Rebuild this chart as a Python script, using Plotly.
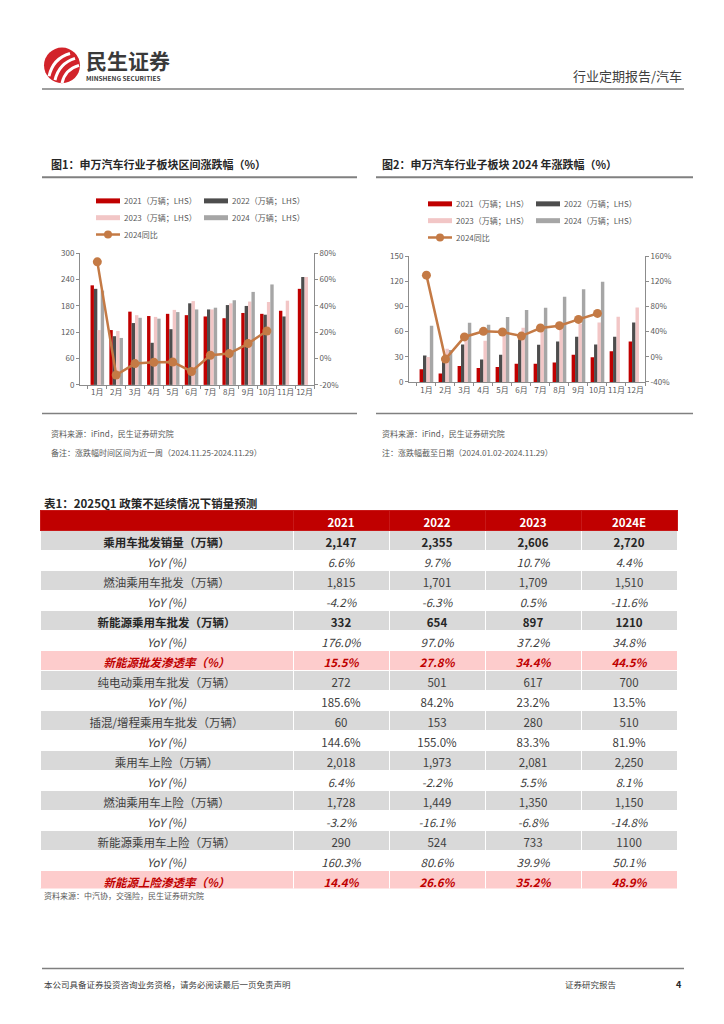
import plotly.graph_objects as go

W, H = 724, 1024
FONT = "Noto Sans CJK SC"

# ---------------- data ----------------
months = ["1月", "2月", "3月", "4月", "5月", "6月", "7月", "8月", "9月", "10月", "11月", "12月"]

c1_2021 = [227, 125, 167, 157, 162, 159, 156, 152, 164, 162, 169, 219]
c1_2022 = [219, 111, 141, 96, 127, 186, 172, 182, 180, 160, 156, 246]
c1_2023 = [125, 123, 159, 155, 171, 191, 172, 186, 190, 189, 192, 246]
c1_2024 = [215, 107, 153, 151, 166, 172, 176, 193, 212, 229, None, None]
c1_yoy = [73.5, -12.5, -3.8, -2.8, -2.6, -9.8, 2.5, 3.8, 11.4, 21.0]

c2_2021 = [15, 10, 19, 16.6, 17.8, 21.7, 21.7, 23.3, 32.4, 29.4, 36.5, 48.4]
c2_2022 = [31.6, 25, 44.6, 26.8, 32.4, 51, 44.4, 48.4, 54, 44.6, 54, 70.8]
c2_2023 = [29.6, 39.5, 54, 49, 55.5, 64.7, 60.6, 67.9, 69.3, 71, 77.9, 88.8]
c2_2024 = [67, 38, 70.7, 68.4, 77.5, 86, 88.6, 101.6, 110.5, 119.6, None, None]
c2_yoy = [130, -3.7, 31.6, 40.5, 39.5, 33, 45.8, 49.5, 59.5, 69]

series_names = ["2021（万辆；LHS）", "2022（万辆；LHS）", "2023（万辆；LHS）", "2024（万辆；LHS）"]
line_name = "2024同比"

c1_left_ticks = [0, 60, 120, 180, 240, 300]
c1_right_ticks = [-20, 0, 20, 40, 60, 80]
c2_left_ticks = [0, 30, 60, 90, 120, 150]
c2_right_ticks = [-40, 0, 40, 80, 120, 160]

table_header = ["", "2021", "2022", "2023", "2024E"]
row_labels = ["乘用车批发销量（万辆）", "YoY (%)", "燃油乘用车批发（万辆）", "YoY (%)",
              "新能源乘用车批发（万辆）", "YoY (%)", "新能源批发渗透率（%）",
              "纯电动乘用车批发（万辆）", "YoY (%)", "插混/增程乘用车批发（万辆）", "YoY (%)",
              "乘用车上险（万辆）", "YoY (%)", "燃油乘用车上险（万辆）", "YoY (%)",
              "新能源乘用车上险（万辆）", "YoY (%)", "新能源上险渗透率（%）"]
v2021 = ["2,147", "6.6%", "1,815", "-4.2%", "332", "176.0%", "15.5%", "272", "185.6%", "60", "144.6%",
         "2,018", "6.4%", "1,728", "-3.2%", "290", "160.3%", "14.4%"]
v2022 = ["2,355", "9.7%", "1,701", "-6.3%", "654", "97.0%", "27.8%", "501", "84.2%", "153", "155.0%",
         "1,973", "-2.2%", "1,449", "-16.1%", "524", "80.6%", "26.6%"]
v2023 = ["2,606", "10.7%", "1,709", "0.5%", "897", "37.2%", "34.4%", "617", "23.2%", "280", "83.3%",
         "2,081", "5.5%", "1,350", "-6.8%", "733", "39.9%", "35.2%"]
v2024 = ["2,720", "4.4%", "1,510", "-11.6%", "1210", "34.8%", "44.5%", "700", "13.5%", "510", "81.9%",
         "2,250", "8.1%", "1,150", "-14.8%", "1100", "50.1%", "48.9%"]
# row style: g=grey, w=white, p=pink ; b=bold ; i=italic values ; l = italic label only
row_style = ["gb", "wi", "g", "wi", "gb", "wi", "p", "g", "wl", "g", "wl",
             "g", "wi", "g", "wi", "g", "wi", "p"]

# ---------------- colours ----------------
RED = "#C00000"
DARK = "#4D4D4D"
PINK = "#F2C6C6"
GREY = "#A6A6A6"
LINEC = "#C47A45"
AX = "#8C8C8C"
TXT = "#595959"
bar_colors = [RED, DARK, PINK, GREY]


def px(x):
    return x / W


def py(y):
    return 1 - y / H


fig = go.Figure()

# ---------------- charts ----------------
for vals, name, col in zip([c1_2021, c1_2022, c1_2023, c1_2024], series_names, bar_colors):
    fig.add_trace(go.Bar(x=months, y=vals, name=name, marker=dict(color=col, line=dict(width=0)),
                         xaxis="x", yaxis="y", showlegend=False))
fig.add_trace(go.Scatter(x=months[:len(c1_yoy)], y=c1_yoy, name=line_name, mode="lines+markers",
                         line=dict(color=LINEC, width=2.5), marker=dict(size=9, color=LINEC),
                         xaxis="x", yaxis="y2", showlegend=False))

for vals, name, col in zip([c2_2021, c2_2022, c2_2023, c2_2024], series_names, bar_colors):
    fig.add_trace(go.Bar(x=months, y=vals, name=name, marker=dict(color=col, line=dict(width=0)),
                         xaxis="x2", yaxis="y3", showlegend=False))
fig.add_trace(go.Scatter(x=months[:len(c2_yoy)], y=c2_yoy, name=line_name, mode="lines+markers",
                         line=dict(color=LINEC, width=2.5), marker=dict(size=9, color=LINEC),
                         xaxis="x2", yaxis="y4", showlegend=False))

tickfont = dict(family=FONT, size=8, color=TXT)
ax_common = dict(showline=True, linecolor=AX, linewidth=1, ticks="outside", ticklen=3,
                 tickcolor=AX, tickfont=tickfont, showgrid=False, zeroline=False, fixedrange=True)

# ---------------- table ----------------
fills = []
fontcols, lab_style, val_style, weights = [], [], [], []
for st in row_style:
    if st.startswith("g"):
        fills.append("#D9D9D9")
    elif st.startswith("p"):
        fills.append("#FDCCCC")
    else:
        fills.append("white")
    if st == "p":
        fontcols.append(RED); weights.append("bold"); lab_style.append("italic"); val_style.append("italic")
    elif st == "gb":
        fontcols.append("#262626"); weights.append("bold"); lab_style.append("normal"); val_style.append("normal")
    elif st == "wi":
        fontcols.append("#404040"); weights.append("normal"); lab_style.append("italic"); val_style.append("italic")
    elif st == "wl":
        fontcols.append("#404040"); weights.append("normal"); lab_style.append("italic"); val_style.append("normal")
    else:
        fontcols.append("#404040"); weights.append("normal"); lab_style.append("normal"); val_style.append("normal")

fig.add_trace(go.Table(
    domain=dict(x=[px(40), px(677)], y=[py(893), py(510)]),
    columnwidth=[253, 96, 96, 96, 96],
    header=dict(values=table_header, fill_color=RED,
                line=dict(color="#C81818", width=1), align="center", height=20,
                font=dict(family=FONT, size=11.5, color="white", weight="bold")),
    cells=dict(values=[row_labels, v2021, v2022, v2023, v2024], fill_color=[fills] * 5,
               line=dict(color="white", width=1), align="center", height=20,
               font=dict(family=FONT, size=11.5, color=[fontcols] * 5)),
))
# per-cell weight / style grids (plotly.js accepts 2-D font arrays for table cells)
_tbl = fig._data[-1]
_tbl["cells"]["font"]["weight"] = [weights] * 5
_tbl["cells"]["font"]["style"] = [lab_style] + [val_style] * 4

# ---------------- decorations ----------------
shapes = []
ann = []


def hline(x0, x1, y, color="#808080", width=1.5):
    shapes.append(dict(type="line", xref="paper", yref="paper", x0=px(x0), x1=px(x1),
                       y0=py(y), y1=py(y), line=dict(color=color, width=width)))


def text(x, y, s, size=8.5, color=TXT, anchor="left", bold=False):
    ann.append(dict(xref="paper", yref="paper", x=px(x), y=py(y), text=("<b>%s</b>" % s) if bold else s,
                    showarrow=False, xanchor=anchor, yanchor="middle",
                    font=dict(family=FONT, size=size, color=color)))


# header logo
shapes.append(dict(type="circle", xref="paper", yref="paper", x0=px(44), x1=px(80), y0=py(78), y1=py(42),
                   fillcolor="#D2232A", line=dict(width=0)))
for (a, b, c) in [((49, 71), (53, 53), (70, 48)), ((55, 75), (59, 58), (75, 53)), ((62, 78), (65, 64), (79, 60))]:
    path = "M %f %f Q %f %f %f %f" % (px(a[0]), py(a[1]), px(b[0]), py(b[1]), px(c[0]), py(c[1]))
    shapes.append(dict(type="path", xref="paper", yref="paper", path=path,
                       line=dict(color="white", width=3)))
text(84, 55, "民生证券", size=21, color="#3A3A3A", bold=True)
text(84, 73, "MINSHENG SECURITIES", size=6.5, color="#3A3A3A", bold=True)
text(684, 70, "行业定期报告/汽车", size=13, color="#404040", anchor="right")
hline(42, 684, 84, color="#7F7F7F", width=1.5)

# chart titles
text(49, 160, "图1：申万汽车行业子板块区间涨跌幅（%）", size=11, color="#262626", bold=True)
text(380, 160, "图2：申万汽车行业子板块 2024 年涨跌幅（%）", size=11, color="#262626", bold=True)
hline(42, 357, 173, width=2)
hline(376, 693, 173, width=2)


# legends (manual)
def legend(x0, y0, x1col):
    rows = [(y0, x0, RED, series_names[0]), (y0, x1col, DARK, series_names[1]),
            (y0 + 17, x0, PINK, series_names[2]), (y0 + 17, x1col, GREY, series_names[3])]
    for (yy, xx, col, name) in rows:
        shapes.append(dict(type="line", xref="paper", yref="paper", x0=px(xx), x1=px(xx + 24),
                           y0=py(yy), y1=py(yy), line=dict(color=col, width=5)))
        text(xx + 26, yy, name, size=8, color=TXT)
    yy = y0 + 34
    shapes.append(dict(type="line", xref="paper", yref="paper", x0=px(x0), x1=px(x0 + 24),
                       y0=py(yy), y1=py(yy), line=dict(color=LINEC, width=2.5)))
    shapes.append(dict(type="circle", xref="paper", yref="paper", x0=px(x0 + 8), x1=px(x0 + 16),
                       y0=py(yy + 4), y1=py(yy - 4), fillcolor=LINEC, line=dict(width=0)))
    text(x0 + 26, yy, line_name, size=8, color=TXT)


legend(96, 197, 204)
legend(428, 200, 536)

# sources
hline(42, 357, 412, width=1.5)
hline(376, 693, 412, width=1.5)
text(49, 432, "资料来源：iFind，民生证券研究院", size=8, color=TXT)
text(49, 451, "备注：涨跌幅时间区间为近一周（2024.11.25-2024.11.29）", size=8, color=TXT)
text(380, 432, "资料来源：iFind，民生证券研究院", size=8, color=TXT)
text(380, 451, "注：涨跌幅截至日期（2024.01.02-2024.11.29）", size=8, color=TXT)

# table title and source
text(42, 502, "表1：2025Q1 政策不延续情况下销量预测", size=11.5, color="#262626", bold=True)
text(42, 899, "资料来源：中汽协，交强险，民生证券研究院", size=8, color=TXT)

# footer
hline(42, 684, 973, color="#7F7F7F", width=1.5)
text(42, 989, "本公司具备证券投资咨询业务资格，请务必阅读最后一页免责声明", size=8.5, color="#404040")
text(563, 989, "证券研究报告", size=8.5, color="#404040")
text(684, 989, "4", size=9, color="#262626", anchor="right", bold=True)

fig.update_layout(
    width=W, height=H, margin=dict(l=0, r=0, t=0, b=0),
    paper_bgcolor="white", plot_bgcolor="rgba(0,0,0,0)",
    showlegend=False, barmode="group", bargap=0.28, bargroupgap=0,
    font=dict(family=FONT),
    xaxis=dict(ax_common, type="category", domain=[px(80), px(314)], anchor="y", tickson="boundaries",
               tickangle=0),
    yaxis=dict(ax_common, domain=[py(383), py(250)], range=[0, 300], tickmode="array",
               tickvals=c1_left_ticks, ticktext=[str(v) for v in c1_left_ticks], anchor="x"),
    yaxis2=dict(ax_common, overlaying="y", side="right", range=[-20, 80], tickmode="array",
                tickvals=c1_right_ticks, ticktext=["%d%%" % v for v in c1_right_ticks], anchor="x"),
    xaxis2=dict(ax_common, type="category", domain=[px(409), px(645)], anchor="y3", tickson="boundaries",
                tickangle=0),
    yaxis3=dict(ax_common, domain=[py(380), py(253)], range=[0, 150], tickmode="array",
                tickvals=c2_left_ticks, ticktext=[str(v) for v in c2_left_ticks], anchor="x2"),
    yaxis4=dict(ax_common, overlaying="y3", side="right", range=[-40, 160], tickmode="array",
                tickvals=c2_right_ticks, ticktext=["%d%%" % v for v in c2_right_ticks], anchor="x2"),
    shapes=shapes, annotations=ann,
)

fig.write_html("out.html", config={"displayModeBar": False},
               post_script="document.body.style.margin='0';")
